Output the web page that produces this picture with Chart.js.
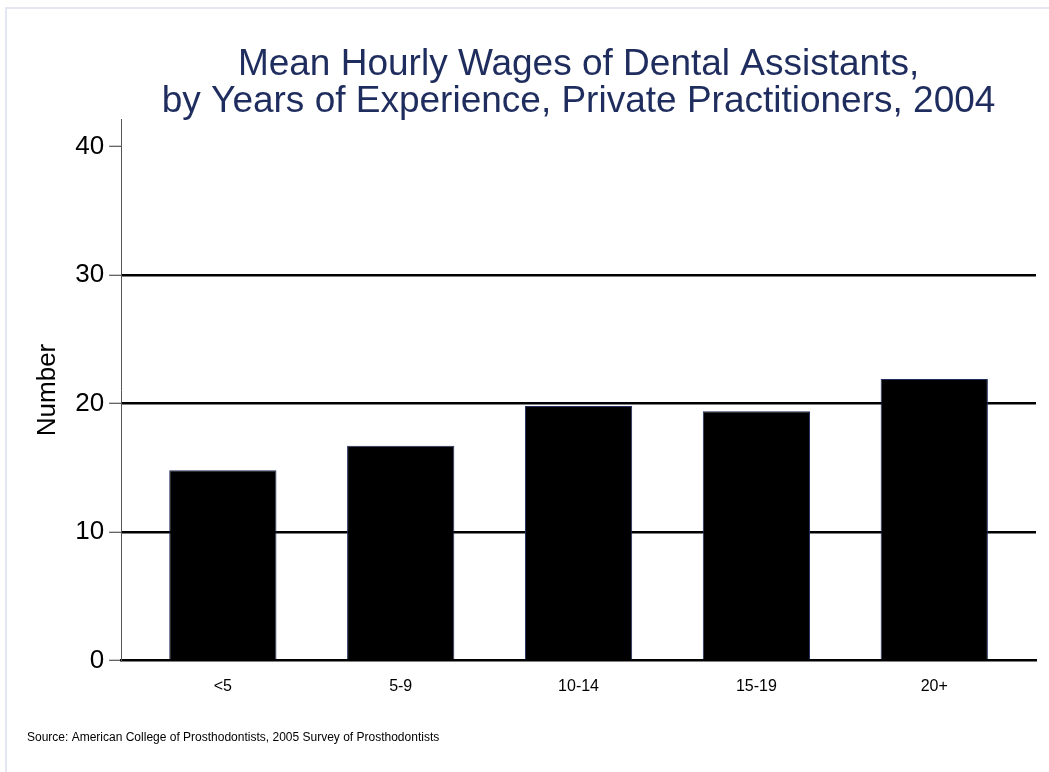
<!DOCTYPE html>
<html>
<head>
<meta charset="utf-8">
<script src="https://cdn.jsdelivr.net/npm/chart.js@4/dist/chart.umd.min.js"></script>
<style>
  html, body { margin: 0; padding: 0; background: #fff; }
  #frame { position: absolute; left: 5px; top: 7px; width: 1100px; height: 800px;
           border-top: 2px solid #e4e6f3; border-left: 2px solid #e4e6f3; }
  #wrap { position: absolute; left: 0; top: 0; width: 1049px; height: 772px; }
</style>
</head>
<body>
<div id="frame"></div>
<div id="wrap"><canvas id="myChart"></canvas></div>
<script>
// categories and values (mean hourly wage, $)
let categories = ['<5', '5-9', '10-14', '15-19', '20+'];
let wages = [14.8, 16.7, 19.8, 19.4, 21.9];
let yTicks = [0, 10, 20, 30, 40];
let gridAt = [10, 20, 30];

let titleLines = ['Mean Hourly Wages of Dental Assistants,', 'by Years of Experience, Private Practitioners, 2004'];
let sourceText = 'Source: American College of Prosthodontists, 2005 Survey of Prosthodontists';

Chart.defaults.font.family = '"Liberation Sans", Arial, sans-serif';
Chart.defaults.color = '#000';

let points = [];
for (let i = 0; i < wages.length; i++) {
    points.push({ x: i, y: wages[i] });
}

let ctx = document.getElementById('myChart').getContext('2d');
let myChart = new Chart(ctx, {
    type: 'bar',
    data: {
        datasets: [{
            label: 'Mean hourly wage',
            data: points,
            backgroundColor: '#000',
            borderColor: '#1f2d5e',
            borderWidth: 1,
            categoryPercentage: 1,
            barPercentage: 0.603
        }]
    },
    options: {
        responsive: true,
        maintainAspectRatio: false,
        animation: false,
        layout: { padding: { left: 27, right: 13, top: 0, bottom: 0 } },
        plugins: {
            legend: { display: false },
            tooltip: { enabled: false },
            title: {
                display: true,
                text: titleLines,
                fullSize: false,
                color: '#1f2d5e',
                font: { size: 37, weight: 'normal', lineHeight: 0.98 },
                padding: { top: 47, bottom: 0 }
            },
            subtitle: {
                display: true,
                text: sourceText,
                position: 'bottom',
                align: 'start',
                color: '#000',
                font: { size: 12, weight: 'normal', lineHeight: 1.2 },
                padding: { top: 17, bottom: 27 }
            }
        },
        scales: {
            x: {
                type: 'linear',
                offset: false,
                min: -0.572,
                max: 4.572,
                afterBuildTicks: function (axis) {
                    axis.ticks = categories.map(function (c, i) { return { value: i }; });
                },
                ticks: {
                    font: { size: 16 },
                    padding: 17,
                    maxRotation: 0,
                    autoSkip: false,
                    callback: function (value) { return categories[value]; }
                },
                grid: { offset: false, drawOnChartArea: false, drawTicks: false },
                border: { display: true, color: '#000', width: 2.5 }
            },
            y: {
                min: 0,
                max: 42.1,
                afterBuildTicks: function (axis) {
                    axis.ticks = yTicks.map(function (v) { return { value: v }; });
                },
                ticks: {
                    font: { size: 26 },
                    padding: 5
                },
                grid: {
                    color: function (c) {
                        return gridAt.includes(c.tick.value) ? '#000' : 'rgba(0,0,0,0)';
                    },
                    lineWidth: 2.5,
                    tickColor: '#333',
                    tickWidth: 1,
                    tickLength: 12
                },
                border: { display: true, color: '#555', width: 1 },
                title: {
                    display: true,
                    text: 'Number',
                    font: { size: 26 },
                    padding: { top: 5, bottom: 7 }
                }
            }
        }
    }
});
</script>
</body>
</html>
